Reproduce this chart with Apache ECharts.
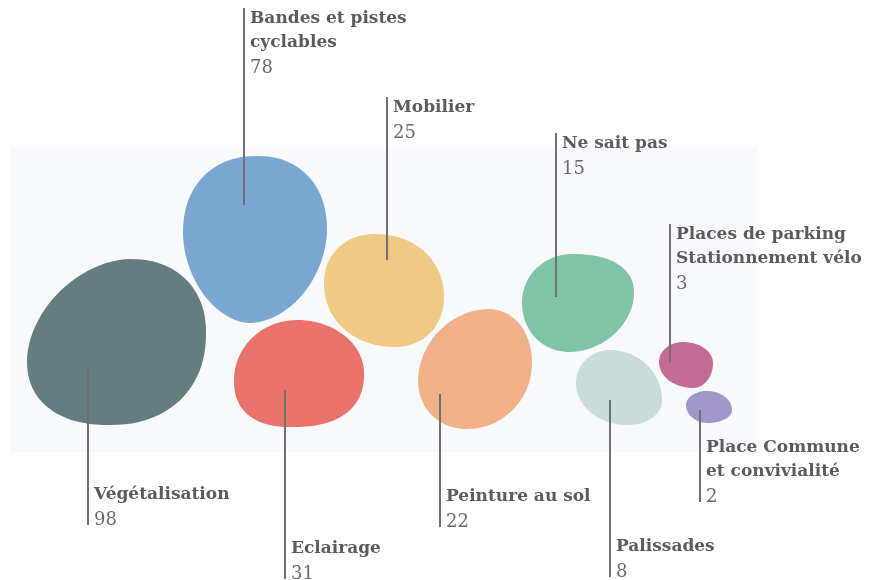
<!DOCTYPE html>
<html>
<head>
<meta charset="utf-8">
<script src="https://cdn.jsdelivr.net/npm/echarts@6/dist/echarts.min.js"></script>
<style>
  html, body { margin: 0; padding: 0; background: #fff; }
  #chart { width: 872px; height: 580px; }
</style>
</head>
<body>
<div id="chart"></div>
<script>
// données
var categories = ['Végétalisation', 'Bandes et pistes\ncyclables', 'Mobilier', 'Eclairage',
                  'Peinture au sol', 'Ne sait pas', 'Palissades',
                  'Places de parking\nStationnement vélo', 'Place Commune\net convivialité'];
var values = [98, 78, 25, 31, 22, 15, 8, 3, 2];
var colors = ['#647d7e', '#7aa7d1', '#f0c985', '#e9736a', '#f0b188', '#80c4a6', '#c8dcd9', '#c46b93', '#a196c9'];

// mise en page des bulles (coordonnées du repère caché) : [x0, x1, y0, y1, xHaut, xBas, yGauche, yDroite]
var blobBox = [
  [27, 206, 259, 425, 130, 110, 360, 333],
  [183, 327, 156, 323, 257, 250, 233, 230],
  [324, 444, 234, 347, 375, 395, 283, 297],
  [234, 364, 320, 427, 297, 292, 380, 373],
  [418, 532, 309, 429, 488, 467, 380, 363],
  [522, 634, 254, 352, 572, 570, 302, 293],
  [576, 662, 350, 425, 610, 627, 383, 400],
  [659, 713, 342, 388, 683, 693, 362, 363],
  [686, 732, 391, 423, 707, 708, 405, 410]
];
// exposants par quadrant [haut-droite, bas-droite, bas-gauche, haut-gauche]
var blobPow = [
  [2.2, 2.2, 2.3, 1.8],
  [2.2, 1.85, 1.85, 2.2],
  [2.1, 2.1, 2.1, 2.1],
  [2.0, 2.4, 2.4, 2.0],
  [2.1, 2.0, 2.1, 1.9],
  [2.3, 1.9, 2.1, 2.0],
  [2.0, 2.1, 2.0, 2.0],
  [2.0, 2.0, 2.0, 2.0],
  [2.0, 2.0, 2.0, 2.0]
];
// repères : [x, yDépart, yFin, 'haut'|'bas']
var leaders = [
  [88, 365, 525, 'bas'],
  [244, 205, 8, 'haut'],
  [387, 260, 97, 'haut'],
  [285, 390, 579, 'bas'],
  [440, 394, 527, 'bas'],
  [556, 297, 133, 'haut'],
  [610, 400, 577, 'bas'],
  [670, 362, 224, 'haut'],
  [700, 410, 502, 'bas']
];

function se(c, n) {
  var s = c < 0 ? -1 : 1;
  return s * Math.pow(Math.abs(c), 2 / n);
}

function blobPoints(b, p, api) {
  var x0 = b[0], x1 = b[1], y0 = b[2], y1 = b[3];
  var tx = b[4], bx = b[5], ly = b[6], ry = b[7];
  var pts = [];
  var steps = 24, k, t, c, s;
  // haut -> droite
  for (k = 0; k < steps; k++) {
    t = (Math.PI / 2) * (1 - k / steps);
    c = se(Math.cos(t), p[0]); s = se(Math.sin(t), p[0]);
    pts.push(api.coord([tx + (x1 - tx) * c, ry - (ry - y0) * s]));
  }
  // droite -> bas
  for (k = 0; k < steps; k++) {
    t = (Math.PI / 2) * (k / steps);
    c = se(Math.cos(t), p[1]); s = se(Math.sin(t), p[1]);
    pts.push(api.coord([bx + (x1 - bx) * c, ry + (y1 - ry) * s]));
  }
  // bas -> gauche
  for (k = 0; k < steps; k++) {
    t = (Math.PI / 2) * (k / steps);
    c = se(Math.sin(t), p[2]); s = se(Math.cos(t), p[2]);
    pts.push(api.coord([bx - (bx - x0) * c, ly + (y1 - ly) * s]));
  }
  // gauche -> haut
  for (k = 0; k < steps; k++) {
    t = (Math.PI / 2) * (k / steps);
    c = se(Math.cos(t), p[3]); s = se(Math.sin(t), p[3]);
    pts.push(api.coord([tx - (tx - x0) * c, ly - (ly - y0) * s]));
  }
  return pts;
}

var chart = echarts.init(document.getElementById('chart'), null, { renderer: 'canvas' });

var items = categories.map(function (name, i) {
  return { name: name, value: [i, values[i]] };
});

var FONT = '"DejaVu Serif", serif';

chart.setOption({
  animation: false,
  backgroundColor: '#ffffff',
  grid: { left: 0, right: 0, top: 0, bottom: 0 },
  xAxis: { type: 'value', min: 0, max: 872, show: false },
  yAxis: { type: 'value', min: 0, max: 580, inverse: true, show: false },
  series: [
    {
      type: 'custom',
      silent: true,
      z: 1,
      data: [0],
      renderItem: function (params, api) {
        var a = api.coord([10, 147]);
        var b = api.coord([757, 452]);
        return {
          type: 'rect',
          shape: { x: a[0], y: a[1], width: b[0] - a[0], height: b[1] - a[1] },
          style: { fill: '#f8f9fc' }
        };
      }
    },
    {
      type: 'custom',
      name: 'bulles',
      z: 2,
      data: items,
      renderItem: function (params, api) {
        var i = api.value(0);
        return {
          type: 'polygon',
          shape: { points: blobPoints(blobBox[i], blobPow[i], api), smooth: 0 },
          style: { fill: colors[i] }
        };
      }
    },
    {
      type: 'custom',
      name: 'etiquettes',
      z: 3,
      silent: true,
      data: items,
      renderItem: function (params, api) {
        var i = api.value(0);
        var L = leaders[i];
        var p0 = api.coord([L[0], L[1]]);
        var p1 = api.coord([L[0], L[2]]);
        var lines = categories[i].split('\n').map(function (s) { return '{n|' + s + '}'; });
        lines.push('{v|' + api.value(1) + '}');
        var top = L[3] === 'haut';
        return {
          type: 'group',
          children: [
            {
              type: 'line',
              shape: { x1: p0[0], y1: p0[1], x2: p1[0], y2: p1[1] },
              style: { stroke: '#707070', lineWidth: 2 }
            },
            {
              type: 'text',
              x: p1[0] + 6,
              y: top ? p1[1] - 1 : p1[1] + 8,
              style: {
                text: lines.join('\n'),
                verticalAlign: top ? 'top' : 'bottom',
                align: 'left',
                rich: {
                  n: { fontFamily: FONT, fontWeight: 'bold', fontSize: 17, lineHeight: 24, fill: '#5c5c5c' },
                  v: { fontFamily: FONT, fontWeight: 'normal', fontSize: 18, lineHeight: 26, fill: '#6a6a6a' }
                }
              }
            }
          ]
        };
      }
    }
  ]
});
</script>
</body>
</html>
